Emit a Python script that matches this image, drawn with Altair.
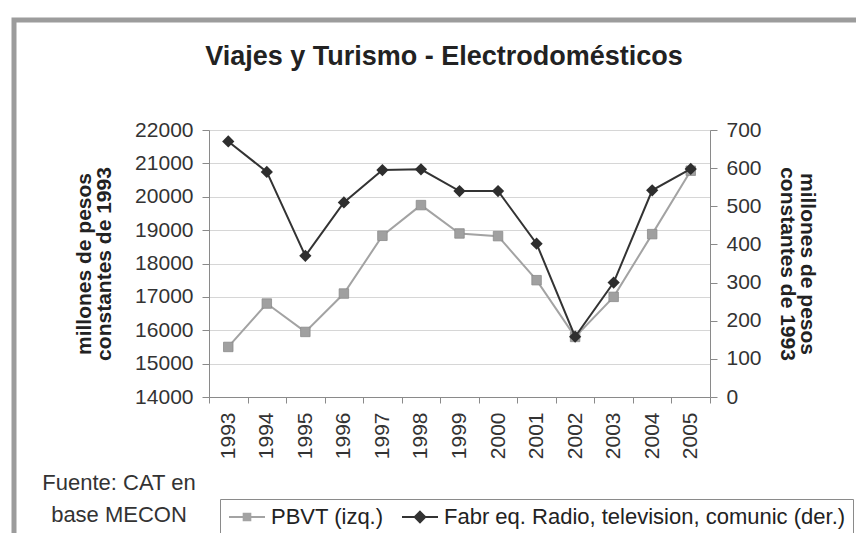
import altair as alt
import pandas as pd

years = ["1993", "1994", "1995", "1996", "1997", "1998", "1999",
         "2000", "2001", "2002", "2003", "2004", "2005"]
pbvt = [15500, 16800, 15950, 17100, 18830, 19750, 18900,
        18820, 17500, 15800, 17000, 18880, 20780]
fabr = [670, 590, 370, 510, 595, 597, 540, 540, 402, 158, 300, 542, 598]
series_names = ["PBVT (izq.)", "Fabr eq. Radio, television, comunic (der.)"]
series_colors = ["#a3a3a3", "#333333"]
left_ticks = [14000, 15000, 16000, 17000, 18000, 19000, 20000, 21000, 22000]
right_ticks = [0, 100, 200, 300, 400, 500, 600, 700]
title_text = "Viajes y Turismo - Electrodomésticos"
axis_title = ["millones de pesos", "constantes de 1993"]
source_lines = ["Fuente: CAT en", "base MECON"]

FONT = "Liberation Sans"

df = pd.DataFrame({
    "year": years * 2,
    "series": [series_names[0]] * len(years) + [series_names[1]] * len(years),
    "value": pbvt + fabr,
})

x_enc = alt.X("year:O", title=None, sort=years,
              scale=alt.Scale(paddingInner=0, paddingOuter=0),
              axis=alt.Axis(labelAngle=270, tickBand="extent", labelFontSize=21,
                            labelPadding=9, tickSize=6, domainColor="#8a8a8a",
                            tickColor="#8a8a8a", labelColor="#333", labelFont=FONT,
                            labelBaseline="middle", labelAlign="right"))

sym_expr = ("datum.value == '" + series_names[0] + "' ? "
            "'M-1,0H3M0.62,-0.38H1.38V0.38H0.62Z' : "
            "'M-1,0H3M1,-0.6L1.6,0L1,0.6L0.4,0Z'")

color_enc = alt.Color("series:N",
                      scale=alt.Scale(domain=series_names, range=series_colors),
                      legend=alt.Legend(orient="none", legendX=11, legendY=369,
                                        direction="horizontal", title=None,
                                        strokeColor="#8a8a8a", padding=7,
                                        symbolType={"expr": sym_expr},
                                        symbolFillColor={"expr": "scale('color', datum.value)"},
                                        symbolSize=324, symbolStrokeWidth=1.8,
                                        labelFontSize=22, labelFont=FONT,
                                        labelColor="#222", labelOffset=22,
                                        labelLimit=600, columnPadding=14))

base = alt.Chart(df)

left_y = alt.Y("value:Q", title=axis_title,
               scale=alt.Scale(domain=[14000, 22000], nice=False, zero=False),
               axis=alt.Axis(values=left_ticks, grid=True, gridColor="#d6d6d6",
                             format="d",
                             labelFontSize=21, labelFont=FONT, labelColor="#333",
                             tickSize=7, labelPadding=9, tickColor="#8a8a8a",
                             domainColor="#8a8a8a", titleFontSize=21,
                             titleFont=FONT, titleFontWeight="bold",
                             titleColor="#222", titlePadding=20, titleLineHeight=20))

right_y = alt.Y("value:Q", title=axis_title,
                scale=alt.Scale(domain=[0, 700], nice=False),
                axis=alt.Axis(orient="right", values=right_ticks, grid=False,
                              format="d",
                              labelFontSize=21, labelFont=FONT, labelColor="#333",
                              tickSize=7, labelPadding=9, tickColor="#8a8a8a",
                              domainColor="#8a8a8a", titleFontSize=21,
                              titleFont=FONT, titleFontWeight="bold",
                              titleColor="#222", titlePadding=15, titleLineHeight=20))

left_layer = alt.layer(
    base.mark_line(strokeWidth=2).encode(x=x_enc, y=left_y, color=color_enc),
    base.mark_point(shape="square", filled=True, size=90, opacity=1,
                    color="#a0a0a0", stroke="#8c8c8c", strokeWidth=0.8)
        .encode(x=x_enc, y=left_y),
).transform_filter(alt.datum.series == series_names[0])

right_layer = alt.layer(
    base.mark_line(strokeWidth=2).encode(x=x_enc, y=right_y, color=color_enc),
    base.mark_point(shape="diamond", filled=True, size=150, opacity=1,
                    color="#2e2e2e").encode(x=x_enc, y=right_y),
).transform_filter(alt.datum.series == series_names[1])

frame = alt.Chart(pd.DataFrame({"k": [0]})).mark_rect(
    fill=None, stroke="#9c9c9c", strokeWidth=5
).encode(x=alt.value(-195), x2=alt.value(900), y=alt.value(-110), y2=alt.value(700))

title = alt.Chart(pd.DataFrame({"t": [title_text]})).mark_text(
    fontSize=27, font=FONT, fontWeight="bold", color="#222", align="center",
    baseline="alphabetic"
).encode(text="t", x=alt.value(235), y=alt.value(-65))

source = alt.Chart(pd.DataFrame({"t": [source_lines]})).mark_text(
    fontSize=22, font=FONT, color="#333", align="center", baseline="middle",
    lineHeight=32
).encode(text="t", x=alt.value(-90), y=alt.value(353))

chart = alt.layer(left_layer, right_layer, frame, title, source).resolve_scale(
    y="independent"
).properties(
    width=501, height=267,
    autosize=alt.AutoSizeParams(type="none"),
    padding={"left": 201, "top": 122, "right": 146, "bottom": 136},
).configure_view(stroke=None).configure(background="white")

chart.save("out.html", embed_options={"renderer": "svg", "actions": False})
